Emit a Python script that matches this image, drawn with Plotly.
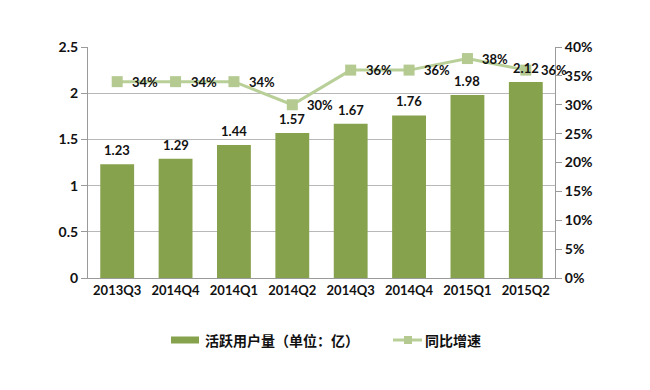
import plotly.graph_objects as go

categories = ["2013Q3", "2014Q4", "2014Q1", "2014Q2", "2014Q3", "2014Q4 ", "2015Q1", "2015Q2"]
tick_labels = ["2013Q3", "2014Q4", "2014Q1", "2014Q2", "2014Q3", "2014Q4", "2015Q1", "2015Q2"]
active_users = [1.23, 1.29, 1.44, 1.57, 1.67, 1.76, 1.98, 2.12]
yoy_growth = [0.34, 0.34, 0.34, 0.30, 0.36, 0.36, 0.38, 0.36]
left_ticks = [0, 0.5, 1, 1.5, 2, 2.5]
left_tick_labels = ["0", "0.5", "1", "1.5", "2", "2.5"]
bar_name = "活跃用户量（单位：亿）"
line_name = "同比增速"

FONT = "Lato, 'Open Sans', sans-serif"
CJK = "'Noto Sans CJK SC', sans-serif"
BAR_COLOR = "#87a24d"
LINE_COLOR = "#b9cf98"
MARKER_COLOR = "#b4ca91"
LABEL_SIZE = 13

# figure layout (page body adds an 8px offset)
L, R, T, B = 80, 103, 39, 120
W, H = 650, 390
PW, PH = W - L - R, H - T - B


def px(x):
    return (x - L) / PW


def py(y):
    return (H - B - y) / PH


fig = go.Figure()
fig.add_trace(go.Bar(
    x=categories, y=active_users, name=bar_name,
    marker=dict(color=BAR_COLOR, line=dict(width=0)),
    cliponaxis=False, width=0.58, showlegend=False,
))
fig.add_trace(go.Scatter(
    x=categories, y=yoy_growth, name=line_name, yaxis="y2",
    mode="lines+markers",
    line=dict(color=LINE_COLOR, width=3),
    marker=dict(symbol="square", size=11, color=MARKER_COLOR),
    cliponaxis=False, showlegend=False,
))

# bar value labels (annotations so they sit above the line layer)
annotations = [
    dict(text=f"{v:.2f}", xref="x", yref="y", x=c, y=v,
         xanchor="center", yanchor="bottom", yshift=4, showarrow=False,
         font=dict(family=FONT, size=LABEL_SIZE, color="#111111", weight="bold"))
    for c, v in zip(categories, active_users)
]
# growth labels to the right of each marker
annotations += [
    dict(text=f"{round(v*100)}%", xref="x", yref="y2", x=c, y=v,
         xanchor="left", yanchor="middle", xshift=13, showarrow=False,
         font=dict(family=FONT, size=LABEL_SIZE, color="#111111", weight="bold"))
    for c, v in zip(categories, yoy_growth)
]

# custom legend
leg_y = 332
shapes = [
    dict(type="rect", xref="paper", yref="paper",
         x0=px(163), x1=px(191), y0=py(leg_y + 3.5), y1=py(leg_y - 3.5),
         fillcolor=BAR_COLOR, line=dict(width=0)),
    dict(type="line", xref="paper", yref="paper",
         x0=px(385), x1=px(414), y0=py(leg_y), y1=py(leg_y),
         line=dict(color=LINE_COLOR, width=3)),
    dict(type="rect", xref="paper", yref="paper",
         x0=px(396), x1=px(404), y0=py(leg_y + 4), y1=py(leg_y - 4),
         fillcolor=MARKER_COLOR, line=dict(width=0)),
]
annotations += [
    dict(text=bar_name, xref="paper", yref="paper", x=px(195), y=py(leg_y),
         xanchor="left", yanchor="middle", showarrow=False,
         font=dict(family=CJK, size=14, color="#111111", weight="bold")),
    dict(text=line_name, xref="paper", yref="paper", x=px(415), y=py(leg_y),
         xanchor="left", yanchor="middle", showarrow=False,
         font=dict(family=CJK, size=14, color="#111111", weight="bold")),
]

fig.update_layout(
    width=W, height=H,
    margin=dict(l=L, r=R, t=T, b=B, autoexpand=False),
    paper_bgcolor="white", plot_bgcolor="white",
    font=dict(family=FONT, size=14, color="#111111"),
    showlegend=False,
    shapes=shapes, annotations=annotations,
    xaxis=dict(
        tickmode="array", tickvals=categories, ticktext=tick_labels,
        range=[-0.5, len(categories) - 0.5], autorange=False,
        showline=True, linecolor="#9a9a9a", linewidth=1,
        tickfont=dict(family=FONT, size=13, color="#111111", weight="bold"),
        ticks="", showgrid=False, automargin=False,
    ),
    yaxis=dict(
        range=[0, 2.5], autorange=False,
        tickmode="array", tickvals=left_ticks, ticktext=left_tick_labels,
        showline=True, linecolor="#9a9a9a",
        ticks="outside", ticklen=6, tickcolor="#9a9a9a",
        gridcolor="#b8b8b8", gridwidth=1, zeroline=False, automargin=False,
        tickfont=dict(family=FONT, size=14, color="#111111", weight="bold"),
    ),
    yaxis2=dict(
        range=[0, 0.40], autorange=False, dtick=0.05, overlaying="y", side="right",
        showline=True, linecolor="#9a9a9a", ticks="outside", ticklen=6, tickcolor="#9a9a9a",
        showgrid=False, zeroline=False, tickformat=".0%", automargin=False,
        tickfont=dict(family=FONT, size=14, color="#111111", weight="bold"),
    ),
)

fig.write_html("out.html")
